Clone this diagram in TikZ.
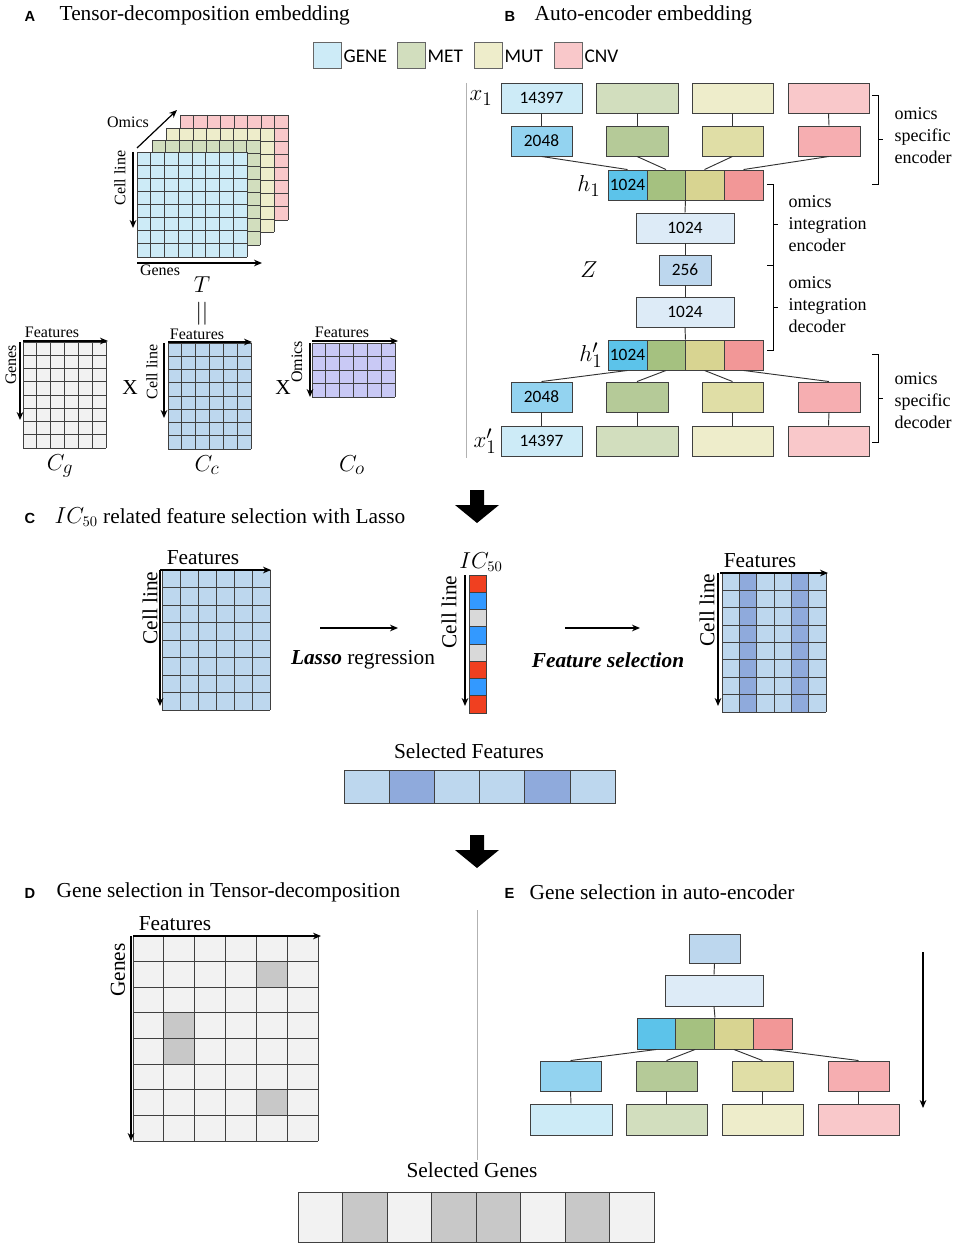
\documentclass[tikz,border=0pt]{standalone}
\usepackage{fontspec}
\setmainfont{Liberation Serif}
\newfontfamily\carl{Carlito}
\newfontfamily\hel{Liberation Sans}
\usetikzlibrary{arrows.meta}
\definecolor{gA}{HTML}{CDEBF7}\definecolor{gB}{HTML}{93D3F0}\definecolor{gC}{HTML}{5CC3EA}
\definecolor{mA}{HTML}{D2DEBE}\definecolor{mB}{HTML}{B5CA98}\definecolor{mC}{HTML}{A5C180}
\definecolor{uA}{HTML}{EEEDCB}\definecolor{uB}{HTML}{E0DEA6}\definecolor{uC}{HTML}{D8D491}
\definecolor{cA}{HTML}{F9C8CA}\definecolor{cB}{HTML}{F6AEB1}\definecolor{cC}{HTML}{F29797}
\definecolor{iA}{HTML}{DDEBF7}\definecolor{iB}{HTML}{BDD7EE}\definecolor{dB}{HTML}{8FAADC}
\definecolor{lav}{HTML}{C9C9F5}\definecolor{lg}{HTML}{F2F2F2}\definecolor{dg}{HTML}{C8C8C8}
\definecolor{rr}{HTML}{F04020}\definecolor{bb}{HTML}{3399FF}\definecolor{gr}{HTML}{D9D9D9}
\newcommand\cgrid[7]{%
 \fill[#7] (#1,#2) rectangle (#3,#4);
 \foreach \i in {0,...,#5}{\draw[gl] ({#1+(#3-#1)*\i/#5},#2) -- ({#1+(#3-#1)*\i/#5},#4);}
 \foreach \j in {0,...,#6}{\draw[gl] (#1,{#2+(#4-#2)*\j/#6}) -- (#3,{#2+(#4-#2)*\j/#6});}}
\newcommand\bx[7]{\node[box,fill=#6,minimum width={(#4-#2)*0.75pt},minimum height={(#5-#3)*0.75pt}] (#1) at ({(#2+#4)/2},{(#3+#5)/2}) {#7};}
\newcommand\brk[3]{\draw[thin] ({#1-6},#2) -- (#1,#2) -- (#1,#3) -- ({#1-6},#3); \draw[thin] (#1,{(#2+#3)/2}) -- ({#1+5},{(#2+#3)/2});}
\newcommand\blk[2]{\fill ({#1-7},#2) -- ({#1+7},#2) -- ({#1+7},{#2+15}) -- ({#1+22},{#2+15}) -- (#1,{#2+33}) -- ({#1-22},{#2+15}) -- ({#1-7},{#2+15}) -- cycle;}
\begin{document}
\begin{tikzpicture}[x=0.75pt,y=-0.75pt,
 gl/.style={draw=black!75,line width=0.6pt},
 ar/.style={-{Stealth[length=6pt,width=5pt]},line width=0.9pt},
 box/.style={draw=black!75,line width=0.7pt,inner sep=0pt,font=\carl\fontsize{13}{13}\selectfont},
 ttl/.style={anchor=west,font=\fontsize{16}{16}\selectfont},
 lab/.style={anchor=west,font=\hel\bfseries\fontsize{11}{11}\selectfont},
 sm/.style={font=\fontsize{12}{12}\selectfont},
 brt/.style={align=left,anchor=west,font=\fontsize{13.5}{16.5}\selectfont},
 md/.style={font=\fontsize{16}{16}\selectfont},
 mt/.style={font=\fontsize{19}{19}\selectfont},
 ln/.style={line width=0.7pt,draw=black!80}]
\useasboundingbox (0,0) rectangle (957,1248);
% titles
\node[lab] (la) at (20,16) {A}; \node[ttl] (ta) at (55,15) {Tensor-decomposition embedding};
\node[lab] (lb) at (500,16) {B}; \node[ttl] (tb) at (530,15) {Auto-encoder embedding};
\node[lab] (lc) at (20,518) {C}; \node[ttl] (tc) at (50,517) {$IC_{50}$ related feature selection with Lasso};
\node[lab] (ld) at (20,893) {D}; \node[ttl] (td) at (52,892) {Gene selection in Tensor-decomposition};
\node[lab] (le) at (500,893) {E}; \node[ttl] (te) at (525,892) {Gene selection in auto-encoder};
% legend
\foreach \x/\c/\t in {313/gA/GENE,397/mA/MET,474/uA/MUT,554/cA/CNV}{
 \fill[\c,draw=black!60] (\x,42) rectangle (\x+28,68);
 \node[anchor=west,font=\carl\fontsize{14.5}{14.5}\selectfont,inner sep=1pt] at (\x+29,56) {\t};}
% Panel A tensor
\cgrid{180}{115}{288}{220}{8}{8}{cA}
\cgrid{166}{128}{274}{232}{8}{8}{uA}
\cgrid{152}{140}{260}{245}{8}{8}{mA}
\cgrid{137}{152}{247}{257}{8}{8}{gA}
\draw[ar] (137,148) -- (177,110); \node[sm] at (128,122) {Omics};
\draw[ar] (133,152) -- (133,228); \node[sm,rotate=90] at (120,178) {Cell line};
\draw[ar] (137,263) -- (262,263); \node[sm] at (160,270) {Genes};
\node[md] at (202,285) {$T$}; \node[md] at (202,314) {$||$};
% Cg
\cgrid{23}{342}{106}{448}{6}{8}{lg}
\draw[ar] (23,341) -- (108,341); \node[sm] at (52,332) {Features};
\draw[ar] (20,342) -- (20,420); \node[sm,rotate=90] at (11,365) {Genes};
\node[mt] at (60,466) {$C_g$};
\node[md] at (130,388) {X};
\cgrid{168}{343}{251}{449}{6}{8}{iB}
\draw[ar] (168,342) -- (252,342); \node[sm] at (197,334) {Features};
\draw[ar] (164,343) -- (164,418); \node[sm,rotate=90] at (152,372) {Cell line};
\node[mt] at (207,465) {$C_c$};
\node[md] at (283,388) {X};
\cgrid{312}{343}{395}{397}{6}{4}{lav}
\draw[ar] (312,341) -- (398,341); \node[sm] at (342,332) {Features};
\draw[ar] (310,343) -- (310,397); \node[sm,rotate=90] at (297,362) {Omics};
\node[mt] at (352,465) {$C_o$};
% Panel B
\draw[gray!60] (466,83) -- (466,458);
\bx{a1}{501}{83}{582}{113}{gA}{14397}\bx{a2}{596}{83}{678}{113}{mA}{}\bx{a3}{692}{83}{773}{113}{uA}{}\bx{a4}{788}{83}{869}{113}{cA}{}
\bx{b1}{511}{126}{572}{156}{gB}{2048}\bx{b2}{606}{126}{668}{156}{mB}{}\bx{b3}{702}{126}{763}{156}{uB}{}\bx{b4}{798}{126}{860}{156}{cB}{}
\bx{h1}{608}{170}{647}{200}{gC}{1024}\bx{h2}{647}{170}{685}{200}{mC}{}\bx{h3}{685}{170}{724}{200}{uC}{}\bx{h4}{724}{170}{763}{200}{cC}{}
\bx{e1}{636}{213}{734}{243}{iA}{1024}
\bx{z}{659}{255}{711}{285}{iB}{256}
\bx{d1}{636}{297}{734}{327}{iA}{1024}
\bx{k1}{608}{340}{647}{370}{gC}{1024}\bx{k2}{647}{340}{685}{370}{mC}{}\bx{k3}{685}{340}{724}{370}{uC}{}\bx{k4}{724}{340}{763}{370}{cC}{}
\bx{p1}{511}{382}{572}{412}{gB}{2048}\bx{p2}{606}{382}{668}{412}{mB}{}\bx{p3}{702}{382}{763}{412}{uB}{}\bx{p4}{798}{382}{860}{412}{cB}{}
\bx{q1}{501}{426}{582}{456}{gA}{14397}\bx{q2}{596}{426}{678}{456}{mA}{}\bx{q3}{692}{426}{773}{456}{uA}{}\bx{q4}{788}{426}{869}{456}{cA}{}
\foreach \i in {1,...,4}{
 \draw[ln] (a\i.south) -- (b\i.north); \draw[ln] (b\i.south) -- (h\i.north);
 \draw[ln] (k\i.south) -- (p\i.north); \draw[ln] (p\i.south) -- (q\i.north);}
\draw[ln] (h2.south east) -- (e1.north); \draw[ln] (e1.south) -- (z.north);
\draw[ln] (z.south) -- (d1.north); \draw[ln] (d1.south) -- (k2.north east);
\node[mt] at (481,98) {$x_1$}; \node[mt] at (589,186) {$h_1$}; \node[mt] at (589,270) {$Z$};
\node[mt] at (591,355) {$h_1'$}; \node[mt] at (485,441) {$x_1'$};
\brk{878}{95}{184}\brk{773}{184}{265}\brk{773}{265}{350}\brk{878}{354}{442}
\node[brt] at (890,136) {omics\\specific\\encoder};
\node[brt] at (784,224) {omics\\integration\\encoder};
\node[brt] at (784,305) {omics\\integration\\decoder};
\node[brt] at (890,401) {omics\\specific\\decoder};
% block arrows
\blk{477}{490}\blk{477}{835}
% Panel C
\cgrid{162}{570}{270}{710}{6}{8}{iB}
\draw[ar] (160,570) -- (271,570); \node[md] at (203,558) {Features};
\draw[ar] (160,570) -- (160,706); \node[md,rotate=90] at (150,608) {Cell line};
\draw[ar] (320,628) -- (398,628);
\node[md] at (363,660) {\textbf{\textit{Lasso}} regression};
\foreach \c [count=\i from 0] in {rr,bb,gr,bb,gr,rr,bb,rr}{
 \fill[\c,draw=black!75] (469,{575+\i*17.25}) rectangle (486,{575+\i*17.25+17.25});}
\node[md] at (481,562) {$IC_{50}$};
\draw[ar] (465,575) -- (465,706); \node[md,rotate=90] at (449,612) {Cell line};
\draw[ar] (565,628) -- (640,628);
\node[md] at (608,660) {\textbf{\textit{Feature selection}}};
\fill[iB] (722,573) rectangle (826,712);
\fill[dB] (739.3,573) rectangle (756.7,712); \fill[dB] (791.3,573) rectangle (808.7,712);
\foreach \i in {0,...,6}{\draw[gl] ({722+104*\i/6},573) -- ({722+104*\i/6},712);}
\foreach \j in {0,...,8}{\draw[gl] (722,{573+139*\j/8}) -- (826,{573+139*\j/8});}
\draw[ar] (720,573) -- (828,573); \node[md] at (760,561) {Features};
\draw[ar] (718,573) -- (718,706); \node[md,rotate=90] at (707,610) {Cell line};
\node[md] at (469,751) {Selected Features};
\foreach \c [count=\i from 0] in {iB,dB,iB,iB,dB,iB}{
 \fill[\c,draw=black!75] ({344+\i*45.17},770) rectangle ({344+\i*45.17+45.17},803);}
% Panel D
\cgrid{133}{936}{318}{1141}{6}{8}{lg}
\foreach \c/\r in {4/1,1/3,1/4,4/6}{
 \fill[dg,draw=black!75,line width=0.6pt] ({133+\c*185/6},{936+\r*205/8}) rectangle ({133+\c*185/6+185/6},{936+\r*205/8+205/8});}
\draw[ar] (133,936) -- (321,936); \node[md] at (175,924) {Features};
\draw[ar] (131,936) -- (131,1141); \node[md,rotate=90] at (118,970) {Genes};
\draw[gray!60] (477,910) -- (477,1160);
\node[md] at (472,1170) {Selected Genes};
\foreach \c [count=\i from 0] in {lg,dg,lg,dg,dg,lg,dg,lg}{
 \fill[\c,draw=black!75] ({298+\i*44.5},1192) rectangle ({298+\i*44.5+44.5},1242);}
% Panel E
\bx{t1}{689}{934}{740}{963}{iB}{}
\bx{t2}{665}{975}{763}{1006}{iA}{}
\bx{s1}{637}{1018}{675.75}{1049}{gC}{}\bx{s2}{675.75}{1018}{714.5}{1049}{mC}{}\bx{s3}{714.5}{1018}{753.25}{1049}{uC}{}\bx{s4}{753.25}{1018}{792}{1049}{cC}{}
\bx{r1}{540}{1061}{601}{1091}{gB}{}\bx{r2}{636}{1061}{697}{1091}{mB}{}\bx{r3}{732}{1061}{793}{1091}{uB}{}\bx{r4}{828}{1061}{889}{1091}{cB}{}
\bx{u1}{530}{1104}{612}{1135}{gA}{}\bx{u2}{626}{1104}{707}{1135}{mA}{}\bx{u3}{722}{1104}{803}{1135}{uA}{}\bx{u4}{818}{1104}{899}{1135}{cA}{}
\draw[ln] (t1.south) -- (t2.north); \draw[ln] (t2.south) -- (s2.north east);
\foreach \i in {1,...,4}{\draw[ln] (s\i.south) -- (r\i.north); \draw[ln] (r\i.south) -- (u\i.north);}
\coordinate (ea) at (923,952); \coordinate (eb) at (923,1108);
\draw[ar] (ea) -- (eb);
\end{tikzpicture}
\end{document}
